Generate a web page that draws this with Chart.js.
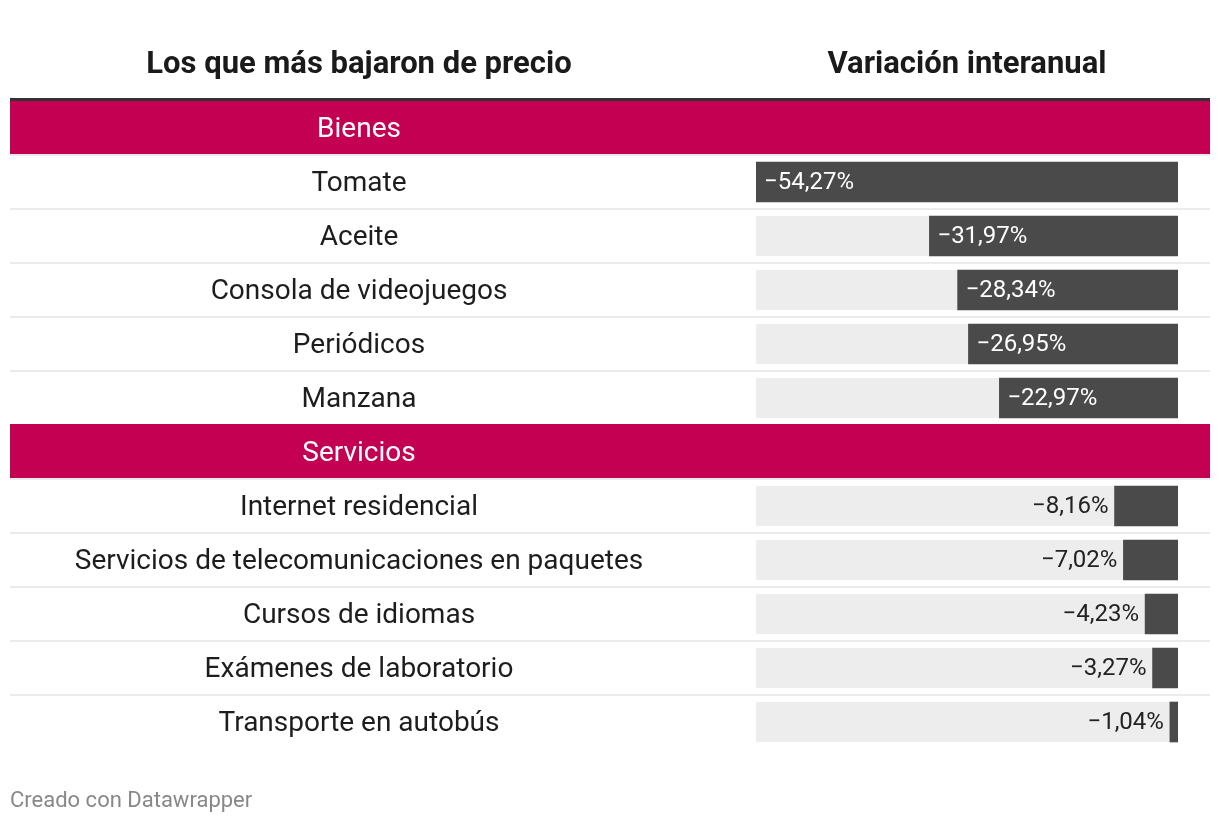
<!DOCTYPE html>
<html><head><meta charset="utf-8">
<script src="https://cdn.jsdelivr.net/npm/chart.js@4.4.1/dist/chart.umd.min.js"></script>
<style>
html,body{margin:0;padding:0;background:#fff;}
body{width:1220px;height:824px;position:relative;overflow:hidden;font-family:Roboto,sans-serif;}
#wrap{position:absolute;left:0;top:0;width:1220px;height:824px;}
.hdr{position:absolute;top:43px;font-weight:700;font-size:31px;color:#1a1a1a;text-align:center;line-height:40px;white-space:nowrap;}
#h1{left:10px;width:698px;}
#h2{left:756px;width:422px;}
#foot{position:absolute;left:10px;top:786px;font-size:22px;color:#888;line-height:28px;}
</style></head>
<body>
<div id="wrap"><canvas id="c" width="1220" height="824"></canvas></div>
<div class="hdr" id="h1">Los que más bajaron de precio</div>
<div class="hdr" id="h2">Variación interanual</div>
<div id="foot">Creado con Datawrapper</div>
<script>
const groupNames = ["Bienes", "Servicios"];
const bienesItems = ["Tomate", "Aceite", "Consola de videojuegos", "Periódicos", "Manzana"];
const bienesValues = [-54.27, -31.97, -28.34, -26.95, -22.97];
const serviciosItems = ["Internet residencial", "Servicios de telecomunicaciones en paquetes", "Cursos de idiomas", "Exámenes de laboratorio", "Transporte en autobús"];
const serviciosValues = [-8.16, -7.02, -4.23, -3.27, -1.04];

const rowLabels = [groupNames[0], ...bienesItems, groupNames[1], ...serviciosItems];
const rowValues = [null, ...bienesValues, null, ...serviciosValues];
const isGroup = rowLabels.map((l, i) => groupNames.includes(l) && rowValues[i] === null);

const LABEL_SIZE = 28;
const VALUE_FONT = '24px Roboto';
const CRIMSON = '#c30051';
const BAR = '#4a4a4a';
const TRACK = '#ededed';

// measure widest label to center labels in the left column
const mctx = document.createElement('canvas').getContext('2d');
mctx.font = LABEL_SIZE + 'px Roboto';
const widest = Math.max(...rowLabels.map(l => mctx.measureText(l).width));
const labelCenter = 359, chartLeft = 756;
const labelPad = chartLeft - labelCenter - widest / 2;

function fmt(v) {
  return (v < 0 ? '\u2212' : '') + Math.abs(v).toFixed(2).replace('.', ',') + '%';
}

const tableDecor = {
  id: 'tableDecor',
  beforeDraw(chart) {
    const ctx = chart.ctx, ys = chart.scales.y, area = chart.chartArea;
    const pitch = ys.getPixelForValue(1) - ys.getPixelForValue(0);
    ctx.save();
    // header rule
    ctx.fillStyle = '#333333';
    ctx.fillRect(10, area.top - 3, 1200, 3);
    // separators
    ctx.fillStyle = '#ebebeb';
    for (let i = 1; i < rowLabels.length; i++) {
      const b = ys.getPixelForValue(i) - pitch / 2;
      ctx.fillRect(10, b - 1, 1200, 2);
    }
    for (let i = 0; i < rowLabels.length; i++) {
      const c = ys.getPixelForValue(i);
      if (isGroup[i]) {
        ctx.fillStyle = CRIMSON;
        ctx.fillRect(10, c - pitch / 2 - (i > 0 ? 1 : 0), 1200, pitch - (i > 0 ? 0 : 1));
      } else {
        ctx.fillStyle = TRACK;
        ctx.fillRect(area.left, c - 20, area.right - area.left, 40);
      }
    }
    ctx.restore();
  },
  afterDatasetsDraw(chart) {
    const ctx = chart.ctx;
    const meta = chart.getDatasetMeta(0);
    ctx.save();
    ctx.font = VALUE_FONT;
    ctx.textBaseline = 'middle';
    meta.data.forEach((el, i) => {
      const v = rowValues[i];
      if (v === null || v === undefined) return;
      const t = fmt(v);
      const tw = ctx.measureText(t).width;
      const left = Math.min(el.x, el.base), right = Math.max(el.x, el.base);
      const w = right - left;
      if (w >= tw + 16) {
        ctx.fillStyle = '#ffffff';
        ctx.textAlign = 'left';
        ctx.fillText(t, left + 8, el.y + 1);
      } else {
        ctx.fillStyle = '#222222';
        ctx.textAlign = 'right';
        ctx.fillText(t, left - 6, el.y + 1);
      }
    });
    ctx.restore();
  }
};

new Chart(document.getElementById('c'), {
  type: 'bar',
  data: {
    labels: rowLabels,
    datasets: [{
      data: rowValues,
      backgroundColor: BAR,
      borderWidth: 0,
      barThickness: 40
    }]
  },
  options: {
    responsive: false,
    animation: false,
    devicePixelRatio: 1,
    indexAxis: 'y',
    layout: { padding: { left: 10, right: 42, top: 101, bottom: 75 } },
    plugins: { legend: { display: false }, tooltip: { enabled: false } },
    scales: {
      x: { min: Math.min(...bienesValues, ...serviciosValues), max: 0, display: false },
      y: {
        position: 'left',
        grid: { display: false, drawTicks: false },
        border: { display: false },
        afterFit(s) {
          s.width = chartLeft - 10;
          s.paddingTop = 0;
          s.paddingBottom = 0;
        },
        ticks: {
          autoSkip: false,
          crossAlign: 'center',
          padding: labelPad,
          labelOffset: 1.5,
          font: { family: 'Roboto', size: LABEL_SIZE },
          color: (c) => isGroup[c.index] ? '#ffffff' : '#1d1d1d'
        }
      }
    }
  },
  plugins: [tableDecor]
});
</script>
</body></html>
